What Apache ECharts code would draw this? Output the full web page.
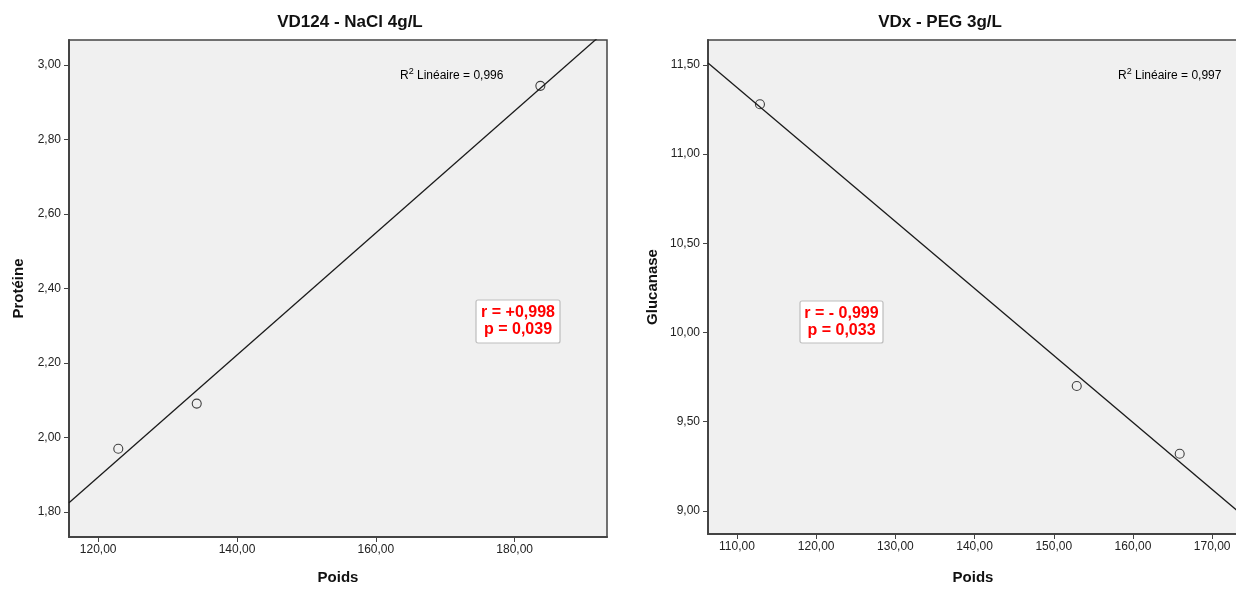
<!DOCTYPE html>
<html><head><meta charset="utf-8">
<script src="https://cdn.jsdelivr.net/npm/echarts@6/dist/echarts.min.js"></script>
<style>html,body{margin:0;padding:0;background:#fff}#c{width:1236px;height:589px}</style>
</head><body><div id="c"></div><script>
// ---- data ----
const poidsA = [122.9, 134.2, 183.7];
const proteine = [1.970, 2.091, 2.944];
const poidsB = [112.9, 152.9, 165.9];
const glucanase = [11.28, 9.70, 9.32];
const xTicksA = [120, 140, 160, 180];
const yTicksA = [1.8, 2.0, 2.2, 2.4, 2.6, 2.8, 3.0];
const xTicksB = [110, 120, 130, 140, 150, 160, 170];
const yTicksB = [9.0, 9.5, 10.0, 10.5, 11.0, 11.5];
const titles = ['VD124 - NaCl 4g/L', 'VDx - PEG 3g/L'];
const yNames = ['Protéine', 'Glucanase'];
const xName = 'Poids';
const r2Values = ['0,996', '0,997'];
const statsA = ['r = +0,998', 'p = 0,039'];
const statsB = ['r = - 0,999', 'p = 0,033'];
// axis ranges
const xRangeA = [115.8, 193.3], yRangeA = [1.733, 3.067];
const xRangeB = [106.34, 177.05], yRangeB = [8.87, 11.64];

function ols(xs, ys) {
  const n = xs.length;
  const mx = xs.reduce((a, b) => a + b, 0) / n;
  const my = ys.reduce((a, b) => a + b, 0) / n;
  let sxx = 0, sxy = 0;
  for (let i = 0; i < n; i++) { sxx += (xs[i] - mx) ** 2; sxy += (xs[i] - mx) * (ys[i] - my); }
  const b = sxy / sxx, a = my - b * mx;
  return x => a + b * x;
}
function fitLine(xs, ys, range) {
  const f = ols(xs, ys);
  return [[range[0], f(range[0])], [range[1], f(range[1])]];
}
const fmt = v => v.toFixed(2).replace('.', ',');
const FONT = 'Liberation Sans';
const axisCol = '#444';

function xAxis(gi, range, ticks, gap, shift) {
  return {
    type: 'value', gridIndex: gi, min: range[0], max: range[1],
    name: xName, nameLocation: 'middle', nameGap: gap,
    nameTextStyle: { fontFamily: FONT, fontSize: 15, fontWeight: 'bold', color: '#111', padding: [0, shift, 0, 0] },
    axisLine: { show: true, lineStyle: { color: axisCol, width: 2 } },
    axisTick: { show: true, length: 5, customValues: ticks, lineStyle: { color: axisCol, width: 1 } },
    axisLabel: { customValues: ticks, formatter: fmt, margin: 7, fontFamily: FONT, fontSize: 12, color: '#222' },
    splitLine: { show: false }
  };
}
function yAxis(gi, range, ticks, name, gap) {
  return {
    type: 'value', gridIndex: gi, min: range[0], max: range[1],
    name: name, nameLocation: 'middle', nameGap: gap, nameRotate: 90,
    nameTextStyle: { fontFamily: FONT, fontSize: 15, fontWeight: 'bold', color: '#111' },
    axisLine: { show: true, lineStyle: { color: axisCol, width: 2 } },
    axisTick: { show: true, length: 5, customValues: ticks, lineStyle: { color: axisCol, width: 1 } },
    axisLabel: { customValues: ticks, formatter: fmt, margin: 8, fontFamily: FONT, fontSize: 12, color: '#222' },
    splitLine: { show: false }
  };
}
function scatter(gi, xs, ys) {
  return {
    type: 'scatter', xAxisIndex: gi, yAxisIndex: gi,
    data: xs.map((x, i) => [x, ys[i]]),
    symbol: 'circle', symbolSize: 9,
    itemStyle: { color: 'rgba(0,0,0,0)', borderColor: '#111', borderWidth: 1.1 },
    z: 5
  };
}
function line(gi, xs, ys, range) {
  return {
    type: 'line', xAxisIndex: gi, yAxisIndex: gi,
    data: fitLine(xs, ys, range), showSymbol: false, symbol: 'none', clip: true,
    lineStyle: { color: '#1a1a1a', width: 1.3 }, z: 4, silent: true
  };
}
function r2Text(x, y, val) {
  return {
    type: 'text', x: x, y: y, z: 10,
    style: {
      text: '{a|R}{s|2}{a| Linéaire = ' + val + '}',
      rich: {
        a: { fontFamily: FONT, fontSize: 12, color: '#111', verticalAlign: 'bottom', lineHeight: 15 },
        s: { fontFamily: FONT, fontSize: 9, color: '#111', verticalAlign: 'top', lineHeight: 15, padding: [0, 0, 5, 0] }
      }
    }
  };
}
function statBox(x, y, w, h, lines) {
  return {
    type: 'group', x: x, y: y, z: 10,
    children: [
      { type: 'rect', shape: { x: 0, y: 0, width: w, height: h, r: 2 },
        style: { fill: '#fff', stroke: '#bdbdbd', lineWidth: 1.2 } },
      { type: 'text', x: w / 2, y: h / 2,
        style: { text: lines.join('\n'), fill: '#ff0000', font: 'bold 16px "Liberation Sans"',
          align: 'center', verticalAlign: 'middle', lineHeight: 17 } }
    ]
  };
}

const chart = echarts.init(document.getElementById('c'), null, { renderer: 'canvas' });
chart.setOption({
  backgroundColor: '#fff',
  animation: false,
  title: [
    { text: titles[0], left: 345, top: 9, textAlign: 'center',
      textStyle: { fontFamily: FONT, fontSize: 17, fontWeight: 'bold', color: '#111' } },
    { text: titles[1], left: 935, top: 9, textAlign: 'center',
      textStyle: { fontFamily: FONT, fontSize: 17, fontWeight: 'bold', color: '#111' } }
  ],
  grid: [
    { left: 69, top: 40, width: 538, height: 497, show: true, backgroundColor: '#f0f0f0', borderColor: axisCol, borderWidth: 1.5, containLabel: false, outerBoundsMode: 'none' },
    { left: 708, top: 40, width: 560, height: 494, show: true, backgroundColor: '#f0f0f0', borderColor: axisCol, borderWidth: 1.5, containLabel: false, outerBoundsMode: 'none' }
  ],
  xAxis: [xAxis(0, xRangeA, xTicksA, 33, 0), xAxis(1, xRangeB, xTicksB, 36, 30)],
  yAxis: [yAxis(0, yRangeA, yTicksA, yNames[0], 43), yAxis(1, yRangeB, yTicksB, yNames[1], 48)],
  series: [
    line(0, poidsA, proteine, xRangeA), scatter(0, poidsA, proteine),
    line(1, poidsB, glucanase, xRangeB), scatter(1, poidsB, glucanase)
  ],
  graphic: [
    r2Text(400, 67, r2Values[0]),
    r2Text(1118, 67, r2Values[1]),
    statBox(476, 300, 84, 43, statsA),
    statBox(800, 301, 83, 42, statsB)
  ]
});
</script></body></html>
